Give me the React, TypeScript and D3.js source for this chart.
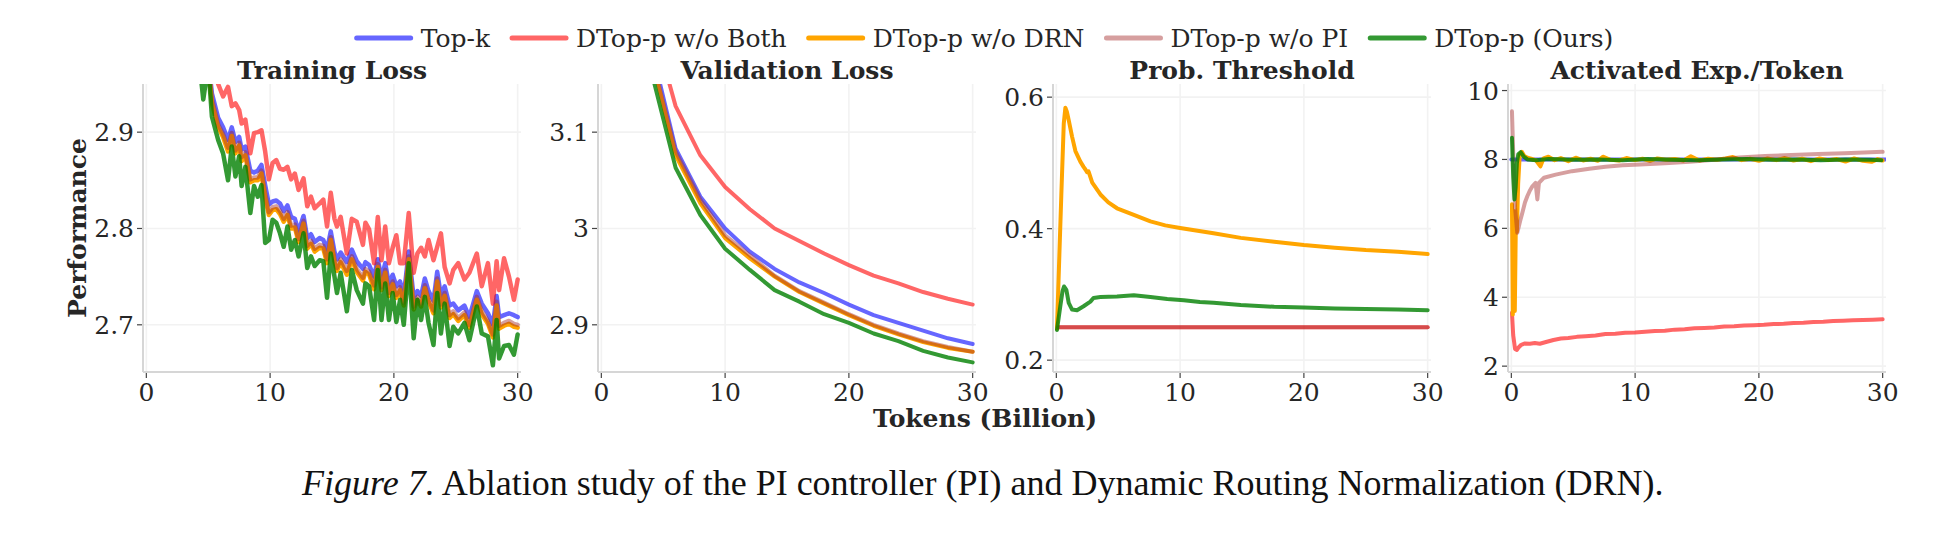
import { useEffect, useRef } from "react";
import * as d3 from "d3";

type Pt = [number, number];

// legend / series metadata
const seriesNames = ["Top-k", "DTop-p w/o Both", "DTop-p w/o DRN", "DTop-p w/o PI", "DTop-p (Ours)"];
const seriesColors = ["#0000ff", "#ff0000", "#ffa500", "#a52a2a", "#008000"];
const seriesAlpha = [0.6, 0.6, 1, 0.45, 0.8];

const panelTitles = ["Training Loss", "Validation Loss", "Prob. Threshold", "Activated Exp./Token"];
const xTicks = [0, 10, 20, 30];
const xTickLabels = ["0", "10", "20", "30"];

// Training loss (Billion tokens)
const trainTokens = [4.3, 4.6, 5.0, 5.3, 5.8, 6.2, 6.6, 6.9, 7.2, 7.5, 7.7, 8.0, 8.4, 8.7, 9.0, 9.3, 9.6, 9.9, 10.2, 10.5, 10.8, 11.1, 11.4, 11.7, 12.0, 12.3, 12.7, 13.0, 13.3, 13.6, 14.0, 14.3, 14.6, 14.9, 15.2, 15.4, 15.7, 16.2, 16.6, 17.0, 17.5, 17.7, 18.0, 18.4, 18.7, 19.0, 19.3, 19.6, 19.9, 20.2, 20.5, 20.8, 21.2, 21.6, 21.9, 22.2, 22.5, 22.8, 23.2, 23.5, 23.8, 24.1, 24.5, 24.8, 25.2, 25.7, 26.1, 26.7, 27.1, 27.6, 28.0, 28.3, 28.5, 28.9, 29.3, 29.7, 30.0];
const trainTopK = [3.05, 3.01, 2.975, 2.94, 2.915, 2.905, 2.892, 2.905, 2.89, 2.895, 2.882, 2.885, 2.86, 2.858, 2.86, 2.866, 2.845, 2.825, 2.828, 2.829, 2.826, 2.818, 2.824, 2.812, 2.81, 2.797, 2.813, 2.79, 2.794, 2.786, 2.79, 2.788, 2.778, 2.797, 2.776, 2.768, 2.775, 2.765, 2.778, 2.766, 2.758, 2.765, 2.762, 2.75, 2.768, 2.748, 2.764, 2.742, 2.752, 2.74, 2.745, 2.73, 2.776, 2.728, 2.735, 2.73, 2.748, 2.735, 2.725, 2.755, 2.73, 2.74, 2.72, 2.722, 2.715, 2.72, 2.708, 2.735, 2.722, 2.712, 2.7, 2.73, 2.708, 2.71, 2.712, 2.71, 2.708];
const trainBoth = [3.12, 3.08, 3.03, 3.0, 2.95, 2.937, 2.947, 2.927, 2.93, 2.923, 2.909, 2.913, 2.878, 2.899, 2.9, 2.902, 2.88, 2.851, 2.868, 2.871, 2.862, 2.861, 2.864, 2.851, 2.857, 2.84, 2.852, 2.823, 2.833, 2.821, 2.826, 2.83, 2.802, 2.837, 2.81, 2.802, 2.812, 2.774, 2.81, 2.807, 2.783, 2.806, 2.799, 2.764, 2.812, 2.767, 2.802, 2.764, 2.78, 2.793, 2.764, 2.764, 2.816, 2.754, 2.774, 2.78, 2.771, 2.788, 2.767, 2.781, 2.795, 2.76, 2.743, 2.757, 2.764, 2.747, 2.754, 2.774, 2.74, 2.764, 2.722, 2.766, 2.736, 2.769, 2.75, 2.726, 2.747];
const trainDRN = [3.04, 3.0, 2.97, 2.93, 2.905, 2.895, 2.88, 2.896, 2.878, 2.886, 2.87, 2.876, 2.848, 2.85, 2.85, 2.857, 2.832, 2.814, 2.819, 2.82, 2.815, 2.807, 2.814, 2.8, 2.801, 2.786, 2.805, 2.779, 2.784, 2.776, 2.78, 2.779, 2.764, 2.788, 2.765, 2.756, 2.765, 2.752, 2.768, 2.755, 2.746, 2.755, 2.752, 2.737, 2.76, 2.736, 2.754, 2.73, 2.742, 2.728, 2.736, 2.72, 2.768, 2.716, 2.726, 2.719, 2.738, 2.724, 2.712, 2.745, 2.718, 2.73, 2.707, 2.711, 2.704, 2.71, 2.697, 2.726, 2.711, 2.701, 2.687, 2.72, 2.696, 2.699, 2.701, 2.698, 2.697];
const trainPI = [3.045, 3.005, 2.972, 2.934, 2.908, 2.898, 2.884, 2.899, 2.881, 2.889, 2.874, 2.879, 2.851, 2.853, 2.853, 2.86, 2.836, 2.817, 2.822, 2.823, 2.818, 2.81, 2.817, 2.803, 2.804, 2.789, 2.808, 2.782, 2.787, 2.779, 2.783, 2.782, 2.768, 2.791, 2.768, 2.759, 2.768, 2.756, 2.771, 2.758, 2.749, 2.758, 2.755, 2.741, 2.763, 2.739, 2.757, 2.733, 2.745, 2.731, 2.739, 2.723, 2.771, 2.719, 2.729, 2.722, 2.741, 2.727, 2.715, 2.748, 2.721, 2.733, 2.71, 2.714, 2.707, 2.713, 2.7, 2.729, 2.714, 2.704, 2.69, 2.724, 2.699, 2.702, 2.704, 2.701, 2.7];
const trainOurs = [2.97, 2.934, 2.97, 2.916, 2.892, 2.878, 2.85, 2.885, 2.854, 2.875, 2.844, 2.864, 2.816, 2.844, 2.833, 2.845, 2.785, 2.788, 2.809, 2.806, 2.795, 2.781, 2.802, 2.778, 2.788, 2.771, 2.795, 2.759, 2.771, 2.761, 2.767, 2.766, 2.728, 2.774, 2.75, 2.733, 2.754, 2.714, 2.757, 2.736, 2.722, 2.743, 2.74, 2.705, 2.757, 2.705, 2.743, 2.705, 2.733, 2.703, 2.726, 2.7, 2.764, 2.686, 2.726, 2.705, 2.729, 2.702, 2.679, 2.733, 2.691, 2.722, 2.678, 2.698, 2.691, 2.702, 2.684, 2.719, 2.691, 2.688, 2.658, 2.705, 2.665, 2.678, 2.679, 2.669, 2.69];

// Validation loss, evaluated every 2B tokens
const valTokens = [4, 6, 8, 10, 12, 14, 16, 18, 20, 22, 24, 26, 28, 30];
const valTopK = [3.19, 3.083, 3.033, 3.0, 2.976, 2.958, 2.944, 2.933, 2.921, 2.91, 2.902, 2.894, 2.886, 2.88];
const valBoth = [3.22, 3.127, 3.076, 3.043, 3.02, 3.0, 2.987, 2.974, 2.962, 2.951, 2.943, 2.934, 2.927, 2.921];
const valDRN = [3.18, 3.076, 3.026, 2.99, 2.969, 2.95, 2.934, 2.922, 2.91, 2.899, 2.89, 2.882, 2.876, 2.872];
const valPI = [3.182, 3.08, 3.03, 2.993, 2.972, 2.951, 2.935, 2.923, 2.911, 2.9, 2.891, 2.883, 2.877, 2.872];
const valOurs = [3.165, 3.063, 3.014, 2.979, 2.957, 2.936, 2.924, 2.911, 2.902, 2.891, 2.883, 2.873, 2.866, 2.861];

// Probability threshold
const thrBoth: Pt[] = [[0.15, 0.25], [30, 0.25]];
const thrDRN: Pt[] = [[0.05, 0.248], [0.4, 0.45], [0.6, 0.56], [0.73, 0.584], [0.85, 0.578], [1.0, 0.565], [1.27, 0.54], [1.54, 0.518], [1.94, 0.502], [2.2, 0.494], [2.35, 0.49], [2.48, 0.486], [2.6, 0.487], [2.9, 0.47], [3.56, 0.452], [4.2, 0.44], [4.9, 0.431], [6.26, 0.421], [7.6, 0.411], [8.8, 0.405], [10.0, 0.401], [12.7, 0.393], [14.9, 0.386], [17.6, 0.38], [20.0, 0.375], [22.5, 0.371], [25.0, 0.3675], [27.6, 0.365], [30.0, 0.3614]];
const thrPI: Pt[] = [[0.15, 0.25], [30, 0.25]];
const thrOurs: Pt[] = [[0.05, 0.246], [0.32, 0.282], [0.5, 0.305], [0.62, 0.312], [0.81, 0.307], [1.0, 0.287], [1.27, 0.277], [1.67, 0.276], [2.2, 0.282], [2.75, 0.289], [3.0, 0.2946], [3.56, 0.296], [4.9, 0.297], [6.26, 0.2986], [7.6, 0.296], [8.96, 0.293], [10.3, 0.291], [11.6, 0.2885], [12.7, 0.2873], [14.9, 0.2838], [17.6, 0.2812], [20.0, 0.2802], [22.5, 0.2787], [25.0, 0.2777], [27.6, 0.2772], [30.0, 0.2761]];

// Activated experts per token
const actTopK: Pt[] = [[0, 8], [30.2, 8]];
const actBoth: Pt[] = [[0.05, 3.55], [0.15, 2.9], [0.3, 2.5], [0.45, 2.47], [0.6, 2.55], [0.8, 2.62], [1.1, 2.66], [1.5, 2.65], [1.9, 2.67], [2.3, 2.65], [2.8, 2.7], [3.4, 2.76], [4.0, 2.8], [4.6, 2.82], [5.3, 2.85], [6.0, 2.87], [6.8, 2.89], [7.6, 2.93], [8.4, 2.94], [9.2, 2.97], [10.0, 2.98], [10.8, 3.0], [11.6, 3.02], [12.4, 3.03], [13.2, 3.06], [14.0, 3.07], [14.8, 3.1], [15.6, 3.11], [16.4, 3.12], [17.2, 3.15], [18.0, 3.16], [18.8, 3.18], [19.6, 3.19], [20.4, 3.2], [21.2, 3.22], [22.0, 3.23], [22.8, 3.25], [23.6, 3.26], [24.4, 3.28], [25.2, 3.29], [26.0, 3.31], [26.8, 3.32], [27.6, 3.33], [28.4, 3.34], [29.2, 3.35], [30.0, 3.36]];
const actDRN: Pt[] = [[0.05, 6.7], [0.12, 3.5], [0.2, 6.5], [0.28, 3.6], [0.36, 6.0], [0.45, 5.9], [0.55, 7.3], [0.68, 8.15], [0.85, 8.22], [1.05, 8.1], [1.3, 8.05], [1.6, 8.02], [2.0, 7.97], [2.35, 7.8], [2.6, 8.03], [3.0, 8.08], [3.5, 7.98], [4.0, 8.04], [4.6, 7.95], [5.2, 8.05], [5.8, 7.97], [6.4, 8.02], [7.0, 7.96], [7.4, 8.08], [8.0, 7.99], [8.7, 7.97], [9.3, 8.04], [10.0, 7.98], [10.6, 8.02], [11.2, 7.96], [11.8, 8.03], [12.5, 7.99], [13.2, 8.01], [13.9, 7.97], [14.5, 8.09], [15.2, 7.97], [15.9, 8.02], [16.6, 7.99], [17.3, 8.03], [17.9, 8.07], [18.6, 7.98], [19.3, 8.02], [20.0, 7.96], [20.7, 8.03], [21.4, 7.98], [22.1, 8.04], [22.8, 7.97], [23.5, 8.02], [24.2, 7.95], [24.9, 8.03], [25.6, 7.98], [26.3, 8.01], [27.0, 7.94], [27.7, 8.03], [28.4, 7.96], [29.1, 7.93], [29.6, 8.01], [30.0, 7.97]];
const actPI: Pt[] = [[0.05, 9.4], [0.15, 8.2], [0.3, 6.6], [0.48, 5.87], [0.7, 6.2], [0.89, 6.45], [1.1, 6.75], [1.29, 6.93], [1.5, 7.1], [1.7, 7.22], [1.96, 7.32], [2.1, 6.84], [2.23, 7.32], [2.64, 7.47], [3.58, 7.56], [4.9, 7.66], [6.3, 7.73], [7.6, 7.79], [9.0, 7.83], [10.4, 7.85], [12.4, 7.89], [14.4, 7.93], [16.4, 7.99], [18.4, 8.06], [20.5, 8.1], [22.6, 8.13], [24.8, 8.16], [26.9, 8.18], [28.5, 8.2], [30.0, 8.22]];
const actOurs: Pt[] = [[0.05, 8.63], [0.15, 7.5], [0.25, 6.84], [0.35, 7.2], [0.45, 7.9], [0.56, 8.15], [0.75, 8.21], [1.0, 8.08], [1.3, 8.0], [2.0, 7.98], [3.0, 8.01], [5.0, 7.99], [7.0, 8.0], [9.0, 7.98], [11.0, 8.01], [13.0, 7.99], [15.0, 7.98], [17.0, 8.0], [19.0, 8.01], [21.0, 7.99], [23.0, 8.0], [25.0, 7.98], [27.0, 8.0], [29.0, 7.99], [29.9, 7.98]];

// y ticks per panel
const trainYTicks = [2.7, 2.8, 2.9];
const trainYLabels = ["2.7", "2.8", "2.9"];
const valYTicks = [2.9, 3.0, 3.1];
const valYLabels = ["2.9", "3", "3.1"];
const thrYTicks = [0.2, 0.4, 0.6];
const thrYLabels = ["0.2", "0.4", "0.6"];
const actYTicks = [2, 4, 6, 8, 10];
const actYLabels = ["2", "4", "6", "8", "10"];

const FONT = "'DejaVu Serif', serif";
const TEXT = "#262626";

export default function App() {
  const svgRef = useRef<SVGSVGElement | null>(null);

  useEffect(() => {
    document.body.style.margin = "0";
    const svg = d3.select(svgRef.current);
    svg.selectAll("*").remove();

    const width = 1960;
    const top = 84;
    const bottom = 372;
    const panelLefts = [143, 598, 1053, 1508];
    const panelWidth = 378;

    const zipPts = (xs: number[], ys: number[]): Pt[] => xs.map((x, i) => [x, ys[i]] as Pt);

    const panels = [
      {
        domain: [2.651, 2.95],
        ticks: trainYTicks,
        labels: trainYLabels,
        lineWidth: 4.5,
        series: [trainTopK, trainBoth, trainDRN, trainPI, trainOurs].map((v) => zipPts(trainTokens, v)),
      },
      {
        domain: [2.851, 3.15],
        ticks: valYTicks,
        labels: valYLabels,
        lineWidth: 4,
        series: [valTopK, valBoth, valDRN, valPI, valOurs].map((v) => zipPts(valTokens, v)),
      },
      {
        domain: [0.182, 0.62],
        ticks: thrYTicks,
        labels: thrYLabels,
        lineWidth: 4,
        series: [null, thrBoth, thrDRN, thrPI, thrOurs],
      },
      {
        domain: [1.83, 10.19],
        ticks: actYTicks,
        labels: actYLabels,
        lineWidth: 4,
        series: [actTopK, actBoth, actDRN, actPI, actOurs],
      },
    ];

    const defs = svg.append("defs");

    panels.forEach((p, pi) => {
      const left = panelLefts[pi];
      const right = left + panelWidth;
      const x = d3.scaleLinear().domain([-0.27, 30.27]).range([left, right]);
      const y = d3.scaleLinear().domain(p.domain).range([bottom, top]);
      const g = svg.append("g");

      defs
        .append("clipPath")
        .attr("id", `clip-${pi}`)
        .append("rect")
        .attr("x", left)
        .attr("y", top)
        .attr("width", panelWidth)
        .attr("height", bottom - top);

      // grid
      g.selectAll(".gx")
        .data(xTicks)
        .join("line")
        .attr("x1", (d) => x(d))
        .attr("x2", (d) => x(d))
        .attr("y1", top)
        .attr("y2", bottom)
        .attr("stroke", "#f2f2f2")
        .attr("stroke-width", 1.6);
      g.selectAll(".gy")
        .data(p.ticks)
        .join("line")
        .attr("x1", left)
        .attr("x2", right)
        .attr("y1", (d) => y(d))
        .attr("y2", (d) => y(d))
        .attr("stroke", "#f2f2f2")
        .attr("stroke-width", 1.6);

      // series
      const line = d3
        .line<Pt>()
        .x((d) => x(d[0]))
        .y((d) => y(d[1]));
      const lg = g.append("g").attr("clip-path", `url(#clip-${pi})`);
      p.series.forEach((s, si) => {
        if (!s) return;
        lg.append("path")
          .datum(s)
          .attr("d", line)
          .attr("fill", "none")
          .attr("stroke", seriesColors[si])
          .attr("stroke-opacity", seriesAlpha[si])
          .attr("stroke-width", p.lineWidth)
          .attr("stroke-linejoin", "round")
          .attr("stroke-linecap", "round");
      });

      // spines
      g.append("line")
        .attr("x1", left)
        .attr("x2", left)
        .attr("y1", top)
        .attr("y2", bottom)
        .attr("stroke", "#d6d6d6")
        .attr("stroke-width", 2);
      g.append("line")
        .attr("x1", left)
        .attr("x2", right)
        .attr("y1", bottom)
        .attr("y2", bottom)
        .attr("stroke", "#d6d6d6")
        .attr("stroke-width", 2);

      // ticks and labels
      xTicks.forEach((t, i) => {
        g.append("line")
          .attr("x1", x(t))
          .attr("x2", x(t))
          .attr("y1", bottom + 1)
          .attr("y2", bottom + 6)
          .attr("stroke", "#444")
          .attr("stroke-width", 1.2);
        g.append("text")
          .attr("x", x(t))
          .attr("y", 401)
          .attr("text-anchor", "middle")
          .attr("font-family", FONT)
          .attr("font-size", 25)
          .attr("fill", TEXT)
          .text(xTickLabels[i]);
      });
      p.ticks.forEach((t, i) => {
        g.append("line")
          .attr("x1", left - 6)
          .attr("x2", left - 1)
          .attr("y1", y(t))
          .attr("y2", y(t))
          .attr("stroke", "#444")
          .attr("stroke-width", 1.2);
        g.append("text")
          .attr("x", left - 9)
          .attr("y", y(t))
          .attr("dy", "0.36em")
          .attr("text-anchor", "end")
          .attr("font-family", FONT)
          .attr("font-size", 25)
          .attr("fill", TEXT)
          .text(p.labels[i]);
      });

      // title
      g.append("text")
        .attr("x", (left + right) / 2)
        .attr("y", 79)
        .attr("text-anchor", "middle")
        .attr("font-family", FONT)
        .attr("font-weight", "bold")
        .attr("font-size", 25)
        .attr("fill", TEXT)
        .text(panelTitles[pi]);
    });

    // axis labels
    svg
      .append("text")
      .attr("transform", `translate(86,${(top + bottom) / 2}) rotate(-90)`)
      .attr("text-anchor", "middle")
      .attr("font-family", FONT)
      .attr("font-weight", "bold")
      .attr("font-size", 25)
      .attr("fill", TEXT)
      .text("Performance");
    svg
      .append("text")
      .attr("x", 985)
      .attr("y", 427)
      .attr("text-anchor", "middle")
      .attr("font-family", FONT)
      .attr("font-weight", "bold")
      .attr("font-size", 25)
      .attr("fill", TEXT)
      .text("Tokens (Billion)");

    // legend, centred above the panels
    const legend = svg.append("g");
    const handle = 54;
    const gap = 10;
    const spacing = 22;
    const widths: number[] = [];
    const items = seriesNames.map((name, i) => {
      const item = legend.append("g");
      item
        .append("line")
        .attr("x1", 0)
        .attr("x2", handle)
        .attr("y1", 38)
        .attr("y2", 38)
        .attr("stroke", seriesColors[i])
        .attr("stroke-opacity", seriesAlpha[i])
        .attr("stroke-width", 5)
        .attr("stroke-linecap", "round");
      const label = item
        .append("text")
        .attr("x", handle + gap)
        .attr("y", 47)
        .attr("font-family", FONT)
        .attr("font-size", 25)
        .attr("fill", TEXT)
        .text(name);
      widths.push(handle + gap + (label.node() as SVGTextElement).getComputedTextLength());
      return item;
    });
    const total = d3.sum(widths) + spacing * (widths.length - 1);
    let cursor = 985 - total / 2;
    items.forEach((item, i) => {
      item.attr("transform", `translate(${cursor},0)`);
      cursor += widths[i] + spacing;
    });

    // figure caption
    const caption = svg
      .append("text")
      .attr("x", 302)
      .attr("y", 495)
      .attr("font-family", "'Liberation Serif', 'Times New Roman', serif")
      .attr("font-size", 36)
      .attr("fill", "#111");
    caption.append("tspan").attr("font-style", "italic").text("Figure 7.");
    caption
      .append("tspan")
      .text(" Ablation study of the PI controller (PI) and Dynamic Routing Normalization (DRN).");

    svg.attr("width", width).attr("height", 548);
  }, []);

  return <svg ref={svgRef} width={1960} height={548} style={{ display: "block", background: "#fff" }}></svg>;
}
